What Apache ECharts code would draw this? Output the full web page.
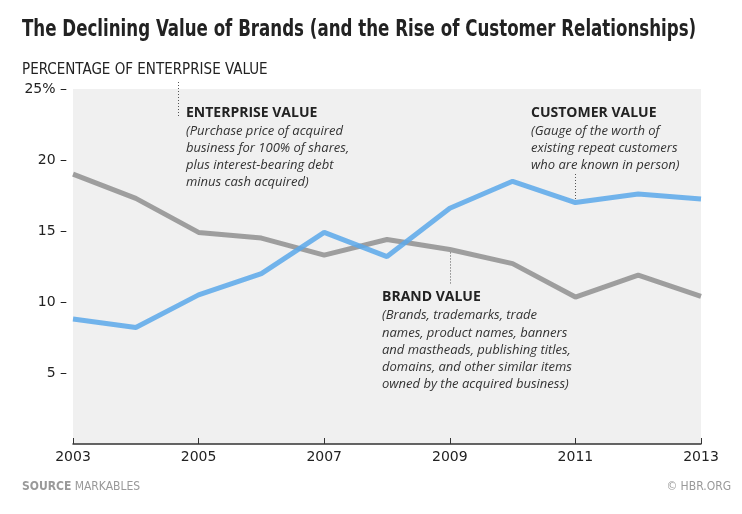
<!DOCTYPE html>
<html><head><meta charset="utf-8">
<script src="https://cdn.jsdelivr.net/npm/echarts@6/dist/echarts.min.js"></script>
<style>html,body{margin:0;padding:0;background:#fff}#c{width:742px;height:514px}</style>
</head><body><div id="c"></div>
<script>
var years = ['2003','2004','2005','2006','2007','2008','2009','2010','2011','2012','2013'];
var customerValue = [8.8, 8.2, 10.5, 12.0, 14.9, 13.2, 16.6, 18.5, 17.0, 17.6, 17.25];
var brandValue = [19.0, 17.3, 14.9, 14.5, 13.3, 14.4, 13.7, 12.7, 10.35, 11.9, 10.4];
var yTicks = [5, 10, 15, 20, 25];

var chart = echarts.init(document.getElementById('c'));
var tf = '"Open Sans", sans-serif';
var nf = '"Liberation Sans Narrow", "DejaVu Sans Condensed", sans-serif';
function italicLines(lines, x, y0, dy) {
  return lines.map(function (t, i) {
    return {type:'text', left:x, top:y0 + i*dy, style:{text:t, font:'italic 13px ' + tf, fill:'#333'}};
  });
}
var option = {
  animation: false,
  grid: {left:73, right:41, top:89, bottom:70, show:true, backgroundColor:'#f0f0f0', borderWidth:0},
  xAxis: {
    type:'category', data: years, boundaryGap:false,
    axisLine:{lineStyle:{color:'#333', width:1.5}},
    axisTick:{inside:true, length:6, interval:1, lineStyle:{color:'#333'}},
    axisLabel:{interval:1, color:'#222', fontSize:14, fontFamily:'"DejaVu Sans", sans-serif', margin:6}
  },
  yAxis: {
    type:'value', min:0, max:25, interval:5,
    axisLine:{show:false}, axisTick:{show:false}, splitLine:{show:false},
    axisLabel:{color:'#222', fontSize:14, fontFamily:'"DejaVu Sans", sans-serif', margin:6,
      formatter:function(v){ if (yTicks.indexOf(v) < 0) return ''; return (v===25 ? v+'%' : v) + ' \u2013'; }}
  },
  series: [
    {type:'line', data: brandValue, symbol:'none', lineStyle:{color:'#8f8f8f', width:5, opacity:0.85}, z:2},
    {type:'line', data: customerValue, symbol:'none', lineStyle:{color:'#5aa8ea', width:5, opacity:0.85}, z:3}
  ],
  graphic: []
};
chart.setOption(option);

var p2011 = chart.convertToPixel({seriesIndex:1}, [8, customerValue[8]]);
var p2009 = chart.convertToPixel({seriesIndex:0}, [6, brandValue[6]]);
var g = [
  {type:'text', x:22, y:19, scaleX:0.805, style:{text:'The Declining Value of Brands (and the Rise of Customer Relationships)', font:'bold 23px ' + nf, fill:'#222'}},
  {type:'text', left:22, top:63, style:{text:'PERCENTAGE OF ENTERPRISE VALUE', font:'15px ' + nf, fill:'#222'}},
  {type:'line', shape:{x1:178.5, y1:82, x2:178.5, y2:117}, style:{stroke:'#555', lineWidth:1, lineDash:[1,2]}, z:10},
  {type:'text', left:186, top:106, style:{text:'ENTERPRISE VALUE', font:'bold 14px ' + tf, fill:'#222'}},
  {type:'text', left:531, top:106, style:{text:'CUSTOMER VALUE', font:'bold 14px ' + tf, fill:'#222'}},
  {type:'line', shape:{x1:Math.round(p2011[0])+0.5, y1:174, x2:Math.round(p2011[0])+0.5, y2:p2011[1]-3}, style:{stroke:'#555', lineWidth:1, lineDash:[1,2]}, z:10},
  {type:'line', shape:{x1:Math.round(p2009[0])+0.5, y1:p2009[1]+3, x2:Math.round(p2009[0])+0.5, y2:285}, style:{stroke:'#555', lineWidth:1, lineDash:[1,2]}, z:10},
  {type:'text', left:382, top:290, style:{text:'BRAND VALUE', font:'bold 14px ' + tf, fill:'#222'}},
  {type:'text', left:22, top:481, style:{rich:{b:{font:'bold 12px ' + nf, fill:'#999'}, n:{font:'12px ' + nf, fill:'#999'}}, text:'{b|SOURCE} {n|MARKABLES}'}},
  {type:'text', right:11, top:481, style:{text:'\u00A9 HBR.ORG', font:'12px ' + nf, fill:'#999'}}
];
g = g.concat(italicLines(['(Purchase price of acquired','business for 100% of shares,','plus interest-bearing debt','minus cash acquired)'], 186, 125, 16.8));
g = g.concat(italicLines(['(Gauge of the worth of','existing repeat customers','who are known in person)'], 531, 125, 16.8));
g = g.concat(italicLines(['(Brands, trademarks, trade','names, product names, banners','and mastheads, publishing titles,','domains, and other similar items','owned by the acquired business)'], 382, 309, 17.3));
chart.setOption({graphic: g});
</script></body></html>
